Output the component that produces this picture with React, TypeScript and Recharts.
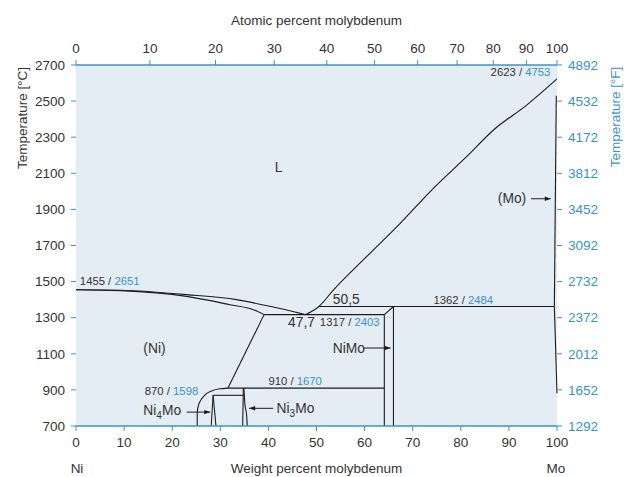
import React from "react";
import { ComposedChart, Line, Scatter, XAxis, YAxis, CartesianGrid } from "recharts";

// molar masses, used to place the atomic-percent axis over the weight-percent axis
const MO = 95.95;
const NI = 58.69;

const celsiusTicks = [700, 900, 1100, 1300, 1500, 1700, 1900, 2100, 2300, 2500, 2700];
const weightTicks = [0, 10, 20, 30, 40, 50, 60, 70, 80, 90, 100];
const atomicTicks = [0, 10, 20, 30, 40, 50, 60, 70, 80, 90, 100];

// phase boundaries as [weight % Mo, °C]
const liquidusNi = [[0, 1455], [9.2, 1452], [23, 1428], [33.4, 1400], [40.3, 1363], [47.7, 1317]];
const solidusNi = [[0, 1455], [9.2, 1450], [23, 1418], [32, 1372], [36.9, 1344], [39.1, 1317]];
const liquidusMo = [[47.7, 1317], [50.5, 1362], [53.5, 1453], [60.4, 1638], [67.4, 1823], [74.3, 2017], [81.2, 2192], [86.8, 2340], [93.7, 2478], [100, 2623]];
const eutectic = [[39.1, 1317], [64.1, 1317]];
const peritectic = [[50.5, 1362], [99.45, 1362]];
const niMoLeft = [[64.1, 1317], [64.1, 700]];
const niMoRight = [[66, 1362], [66, 700]];
const niMoTop = [[64.1, 1317], [66, 1362]];
const moSolidus = [[99.85, 2529], [99.45, 1362]];
const moSolvus = [[99.45, 1362], [100, 882]];
const niSolvus = [[39.1, 1317], [31.6, 910]];
const line910 = [[31.6, 910], [64.1, 910]];
const ni4MoCorner = [[31.6, 910], [29.9, 906], [27.9, 891], [26.5, 863], [25.6, 826], [25.2, 770], [25.2, 700]];
const line870 = [[28.5, 870], [34.8, 870]];
const ni4MoLeft = [[28.5, 870], [28.1, 700]];
const ni4MoRight = [[28.5, 870], [29.1, 700]];
const ni3MoLeft = [[34.8, 910], [34.65, 700]];
const ni3MoRight = [[34.9, 910], [35.1, 826], [35.5, 752], [35.6, 700]];

const straight = [eutectic, peritectic, niMoLeft, niMoRight, niMoTop, moSolidus, moSolvus, niSolvus, line910, line870, ni4MoLeft, ni4MoRight, ni3MoLeft];
const smooth = [liquidusNi, solidusNi, liquidusMo, ni3MoRight];

// arrows: [from, tip]
const arrows = [
  [[59.7, 1132], [65.4, 1132]],
  [[23, 777], [27.9, 777]],
  [[41, 798], [36, 798]],
  [[94.6, 1959], [98.7, 1959]],
];

// notes: left edge position [wt %, °C]
const tempNotes = [
  { w: 0.8, t: 1502, c: 1455, f: 2651 },
  { w: 14.3, t: 892, c: 870, f: 1598 },
  { w: 40, t: 952, c: 910, f: 1670 },
  { w: 50.7, t: 1274, c: 1317, f: 2403 },
  { w: 74.3, t: 1400, c: 1362, f: 2484 },
  { w: 86.2, t: 2659, c: 2623, f: 4753 },
];
const compNotes = [
  { w: 44.1, t: 1271, text: "47,7" },
  { w: 53.4, t: 1400, text: "50,5" },
];
const phaseNotes = [
  { w: 41.3, t: 2133, text: "L" },
  { w: 14, t: 1132, text: "(Ni)" },
  { w: 53.4, t: 1132, text: "NiMo" },
  { w: 87.7, t: 1959, text: "(Mo)" },
  { w: 14, t: 789, text: "Ni4Mo" },
  { w: 41.7, t: 798, text: "Ni3Mo" },
];

const atToWt = (a: number) => (100 * a * MO) / (a * MO + (100 - a) * NI);
const pts = (arr: number[][]) => arr.map(([w, t]) => ({ w, t }));
const atomicAnchors = atomicTicks.map((a) => ({ w: atToWt(a), t: 700 }));

const ink = "#1c1c1c";
const grey = "#333";
const blue = "#3a93c8";
const axisFont = 13.5;

function PhaseText({ cx, cy, payload }: any) {
  const m = /^(Ni)(\d)(Mo)$/.exec(payload.text);
  return (
    <text x={cx} y={cy} fontSize={13.8} fill={grey} dominantBaseline="central">
      {m ? (
        <>
          <tspan>{m[1]}</tspan>
          <tspan fontSize={10} dy={5}>{m[2]}</tspan>
          <tspan dy={-5}>{m[3]}</tspan>
        </>
      ) : (
        payload.text
      )}
    </text>
  );
}

export default function App() {
  return (
    <div style={{ position: "absolute", left: 0, top: 0, fontFamily: "'Liberation Sans', Arial, sans-serif" }}>
      <ComposedChart width={629} height={477} margin={{ top: 35, right: 0, bottom: 21, left: 0 }}>
        <CartesianGrid horizontal={false} vertical={false} fill="#e4ecf4" fillOpacity={1} />
        <XAxis
          xAxisId="w"
          dataKey="w"
          type="number"
          domain={[0, 100]}
          ticks={weightTicks}
          interval={0}
          height={30}
          stroke={blue}
          axisLine={{ stroke: blue, strokeWidth: 1.5 }}
          tickLine={{ stroke: blue }}
          tickSize={5}
          tickMargin={6}
          tick={{ fill: grey, fontSize: axisFont }}
          label={(p: any) => {
            const vb = p.viewBox;
            return (
              <g fontSize={axisFont} fill={grey}>
                <text x={vb.x + vb.width / 2} y={vb.y + 42} textAnchor="middle" dominantBaseline="central">Weight percent molybdenum</text>
                <text x={vb.x + 1} y={vb.y + 42} textAnchor="middle" dominantBaseline="central">Ni</text>
                <text x={vb.x + vb.width - 1} y={vb.y + 42} textAnchor="middle" dominantBaseline="central">Mo</text>
              </g>
            );
          }}
        />
        <XAxis
          xAxisId="a"
          dataKey="w"
          orientation="top"
          type="number"
          domain={[0, 100]}
          ticks={atomicTicks.map(atToWt)}
          tickFormatter={(v: number) => String(atomicTicks.find((a) => Math.abs(atToWt(a) - v) < 1e-6))}
          interval={0}
          height={30}
          axisLine={{ stroke: blue, strokeWidth: 1.5 }}
          tickLine={{ stroke: blue }}
          tickSize={5}
          tickMargin={7}
          tick={{ fill: grey, fontSize: axisFont }}
          label={(p: any) => {
            const vb = p.viewBox;
            return (
              <text x={vb.x + vb.width / 2} y={vb.y - 15} textAnchor="middle" dominantBaseline="central" fontSize={axisFont} fill={grey}>
                Atomic percent molybdenum
              </text>
            );
          }}
        />
        <YAxis
          yAxisId="c"
          dataKey="t"
          type="number"
          domain={[700, 2700]}
          ticks={celsiusTicks}
          interval={0}
          width={76}
          axisLine={false}
          tickLine={{ stroke: blue }}
          tickSize={5}
          tickMargin={6}
          tick={{ fill: grey, fontSize: axisFont }}
          label={(p: any) => {
            const vb = p.viewBox;
            const x = vb.x + 22;
            const y = vb.y + 53;
            return (
              <text x={x} y={y} transform={`rotate(-90 ${x} ${y})`} textAnchor="middle" dominantBaseline="central" fontSize={axisFont} fill={grey}>
                Temperature [°C]
              </text>
            );
          }}
        />
        <YAxis
          yAxisId="f"
          orientation="right"
          type="number"
          domain={[700, 2700]}
          allowDataOverflow
          ticks={celsiusTicks}
          tickFormatter={(c: number) => String(Math.round(c * 1.8 + 32))}
          interval={0}
          width={72}
          axisLine={false}
          tickLine={{ stroke: blue }}
          tickSize={5}
          tickMargin={6}
          tick={{ fill: blue, fontSize: axisFont }}
          label={(p: any) => {
            const vb = p.viewBox;
            const x = vb.x + 58;
            const y = vb.y + 52;
            return (
              <text x={x} y={y} transform={`rotate(-90 ${x} ${y})`} textAnchor="middle" dominantBaseline="central" fontSize={axisFont} fill={blue}>
                Temperature [°F]
              </text>
            );
          }}
        />

        {/* invisible anchors so the atomic-percent axis has a series of its own */}
        <Scatter xAxisId="a" yAxisId="c" data={atomicAnchors} dataKey="t" isAnimationActive={false} shape={() => <g />} />

        {straight.map((b, i) => (
          <Line key={"s" + i} xAxisId="w" yAxisId="c" data={pts(b)} dataKey="t" type="linear" stroke={ink} strokeWidth={1.1} dot={false} activeDot={false} isAnimationActive={false} />
        ))}
        {smooth.map((b, i) => (
          <Line key={"c" + i} xAxisId="w" yAxisId="c" data={pts(b)} dataKey="t" type="monotone" stroke={ink} strokeWidth={1.1} dot={false} activeDot={false} isAnimationActive={false} />
        ))}
        <Line xAxisId="w" yAxisId="c" data={pts(ni4MoCorner)} dataKey="t" type="monotoneY" stroke={ink} strokeWidth={1.1} dot={false} activeDot={false} isAnimationActive={false} />

        {arrows.map((a, i) => {
          const dir = a[1][0] > a[0][0] ? 1 : -1;
          return (
            <Line
              key={"a" + i}
              xAxisId="w"
              yAxisId="c"
              data={pts(a)}
              dataKey="t"
              type="linear"
              stroke={ink}
              strokeWidth={1}
              activeDot={false}
              isAnimationActive={false}
              dot={(p: any) => {
                if (p.index !== 1) return <g key={p.index} />;
                const bx = p.cx - dir * 6;
                return <polygon key={p.index} points={`${p.cx},${p.cy} ${bx},${p.cy - 2.2} ${bx},${p.cy + 2.2}`} fill={ink} />;
              }}
            />
          );
        })}

        <Scatter
          xAxisId="w"
          yAxisId="c"
          data={tempNotes}
          dataKey="t"
          isAnimationActive={false}
          shape={(p: any) => (
            <text x={p.cx} y={p.cy} fontSize={11.3} dominantBaseline="central">
              <tspan fill={grey}>{p.payload.c} / </tspan>
              <tspan fill={blue}>{p.payload.f}</tspan>
            </text>
          )}
        />
        <Scatter
          xAxisId="w"
          yAxisId="c"
          data={compNotes}
          dataKey="t"
          isAnimationActive={false}
          shape={(p: any) => (
            <text x={p.cx} y={p.cy} fontSize={13.8} fill={grey} dominantBaseline="central">
              {p.payload.text}
            </text>
          )}
        />
        <Scatter xAxisId="w" yAxisId="c" data={phaseNotes} dataKey="t" isAnimationActive={false} shape={(p: any) => <PhaseText {...p} />} />
      </ComposedChart>
    </div>
  );
}
